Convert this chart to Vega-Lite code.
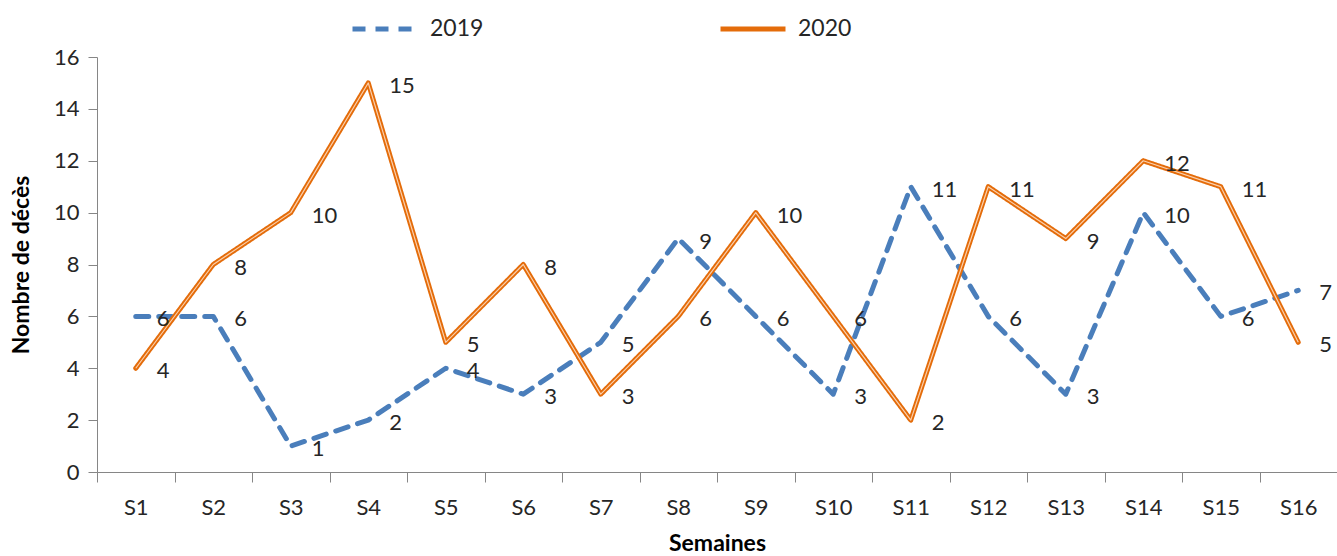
{
  "$schema": "https://vega.github.io/schema/vega-lite/v6.json",
  "width": 1240,
  "height": 415,
  "autosize": {"type": "none"},
  "padding": {"left": 97, "top": 57, "right": 0, "bottom": 84},
  "background": "white",
  "config": {
    "view": {"stroke": null},
    "font": "Lato",
    "axis": {"grid": false, "domainColor": "#868686", "tickColor": "#868686", "labelColor": "#262626", "titleColor": "#000000", "labelFont": "Lato", "titleFont": "Lato"}
  },
  "data": {
    "values": [
      {"semaine": "S1", "annee": "2019", "deces": 6},
      {"semaine": "S2", "annee": "2019", "deces": 6},
      {"semaine": "S3", "annee": "2019", "deces": 1},
      {"semaine": "S4", "annee": "2019", "deces": 2},
      {"semaine": "S5", "annee": "2019", "deces": 4},
      {"semaine": "S6", "annee": "2019", "deces": 3},
      {"semaine": "S7", "annee": "2019", "deces": 5},
      {"semaine": "S8", "annee": "2019", "deces": 9},
      {"semaine": "S9", "annee": "2019", "deces": 6},
      {"semaine": "S10", "annee": "2019", "deces": 3},
      {"semaine": "S11", "annee": "2019", "deces": 11},
      {"semaine": "S12", "annee": "2019", "deces": 6},
      {"semaine": "S13", "annee": "2019", "deces": 3},
      {"semaine": "S14", "annee": "2019", "deces": 10},
      {"semaine": "S15", "annee": "2019", "deces": 6},
      {"semaine": "S16", "annee": "2019", "deces": 7},
      {"semaine": "S1", "annee": "2020", "deces": 4},
      {"semaine": "S2", "annee": "2020", "deces": 8},
      {"semaine": "S3", "annee": "2020", "deces": 10},
      {"semaine": "S4", "annee": "2020", "deces": 15},
      {"semaine": "S5", "annee": "2020", "deces": 5},
      {"semaine": "S6", "annee": "2020", "deces": 8},
      {"semaine": "S7", "annee": "2020", "deces": 3},
      {"semaine": "S8", "annee": "2020", "deces": 6},
      {"semaine": "S9", "annee": "2020", "deces": 10},
      {"semaine": "S10", "annee": "2020", "deces": 6},
      {"semaine": "S11", "annee": "2020", "deces": 2},
      {"semaine": "S12", "annee": "2020", "deces": 11},
      {"semaine": "S13", "annee": "2020", "deces": 9},
      {"semaine": "S14", "annee": "2020", "deces": 12},
      {"semaine": "S15", "annee": "2020", "deces": 11},
      {"semaine": "S16", "annee": "2020", "deces": 5}
    ]
  },
  "encoding": {
    "x": {
      "field": "semaine",
      "type": "ordinal",
      "sort": null,
      "bandPosition": 0.5,
      "scale": {"type": "band", "paddingInner": 0, "paddingOuter": 0},
      "axis": {"title": "Semaines", "labelAngle": 0, "tickBand": "extent", "tickSize": 10, "labelFontSize": 22, "labelPadding": 15, "titleFontSize": 23, "titleFontWeight": "bold", "titlePadding": 14}
    },
    "y": {
      "field": "deces",
      "type": "quantitative",
      "scale": {"domain": [0, 16], "nice": false},
      "axis": {"title": "Nombre de décès", "values": [0, 2, 4, 6, 8, 10, 12, 14, 16], "tickSize": 9, "labelFontSize": 22, "labelPadding": 9, "titleFontSize": 23, "titleFontWeight": "bold", "titlePadding": 20}
    }
  },
  "layer": [
    {
      "mark": {"type": "line", "strokeWidth": 5, "strokeCap": "round", "strokeJoin": "round"},
      "encoding": {
        "color": {
          "field": "annee",
          "type": "nominal",
          "scale": {"domain": ["2019", "2020"], "range": ["#4a7ebb", "#e46c0a"]},
          "legend": {"title": null, "orient": "none", "legendX": 253, "legendY": -63, "direction": "horizontal", "symbolType": "stroke", "symbolSize": 4225, "symbolStrokeWidth": 5, "labelFontSize": 23, "labelColor": "#262626", "labelOffset": 10, "columnPadding": 226}
        },
        "strokeDash": {
          "field": "annee",
          "type": "nominal",
          "scale": {"domain": ["2019", "2020"], "range": [[13, 10], [1, 0]]},
          "legend": {"title": null, "orient": "none", "legendX": 253, "legendY": -63, "direction": "horizontal", "symbolType": "stroke", "symbolSize": 4225, "symbolStrokeWidth": 5, "labelFontSize": 23, "labelColor": "#262626", "labelOffset": 10, "columnPadding": 226}
        }
      }
    },
    {
      "transform": [{"filter": "datum.annee === '2020'"}],
      "mark": {"type": "line", "strokeWidth": 1.2, "color": "#fbd0ad", "strokeJoin": "round"},
      "encoding": {}
    },
    {
      "mark": {"type": "text", "align": "left", "baseline": "middle", "dx": 21, "dy": 3, "fontSize": 22, "color": "#262626", "font": "Lato"},
      "encoding": {"text": {"field": "deces", "type": "quantitative"}}
    }
  ]
}
